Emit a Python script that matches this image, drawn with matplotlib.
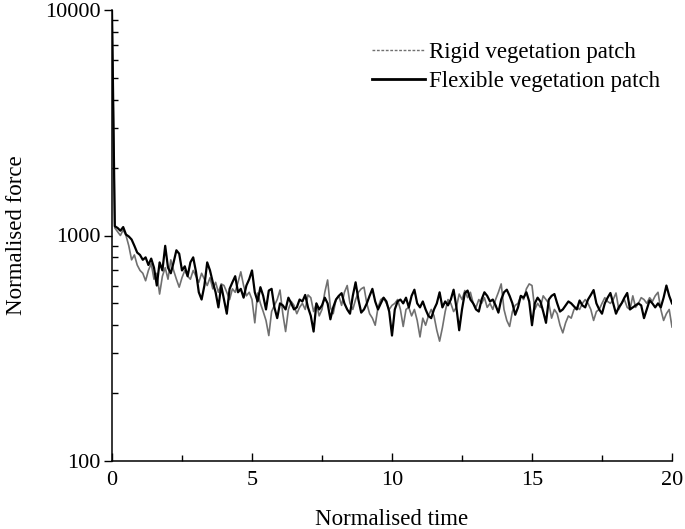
import numpy as np
import matplotlib
matplotlib.use('Agg')
import matplotlib.pyplot as plt
from matplotlib.lines import Line2D
from matplotlib.ticker import MultipleLocator, LogLocator, NullFormatter

# normalised time, sampled every 0.1
time = np.linspace(0, 20, 201)

# rigid vegetation patch (grey)
rigid = [
    10000, 1080, 1040, 1000, 1060, 1000, 900, 780, 820, 740,
    700, 680, 630, 700, 750, 640, 680, 550, 660, 720,
    640, 780, 700, 640, 590, 650, 700, 660, 640, 700,
    660, 620, 680, 640, 600, 650, 580, 620, 560, 610,
    600, 560, 520, 580, 560, 620, 690, 600, 540, 560,
    520, 410, 556, 500, 460, 420, 360, 460, 490, 520,
    573, 450, 375, 470, 510, 490, 450, 480, 500, 470,
    545, 530, 460, 500, 440, 470, 560, 635, 480, 450,
    520, 540, 490, 560, 600, 500, 470, 520, 560, 580,
    590, 500, 450, 430, 400, 480, 520, 530, 500, 470,
    490, 500, 520, 470, 395, 470, 480, 440, 470, 420,
    355, 430, 400, 440, 470, 440, 380, 340, 390, 460,
    520, 500, 460, 480, 550, 520, 570, 530, 560, 500,
    480, 520, 500, 530, 480, 500, 470, 520, 560, 610,
    470, 420, 395, 460, 490, 500, 540, 520, 580, 610,
    600, 470, 500, 480, 540, 520, 500, 430, 470, 450,
    400, 370, 410, 440, 430, 470, 480, 470, 500, 520,
    500, 470, 420, 460, 470, 500, 530, 510, 500, 520,
    556, 470, 500, 520, 480, 470, 540, 480, 500, 530,
    520, 500, 530, 510, 540, 560, 470, 420, 450, 470,
    393,
]

# flexible vegetation patch (black)
flexible = [
    10000, 1100, 1080, 1050, 1090, 1010, 990, 960, 900, 840,
    820, 780, 800, 740, 790, 720, 600, 760, 700, 900,
    720, 680, 760, 860, 830, 700, 730, 660, 760, 800,
    690, 560, 520, 600, 760, 700, 620, 560, 480, 600,
    520, 450, 580, 620, 660, 560, 580, 530, 600, 640,
    700, 560, 510, 590, 540, 470, 570, 580, 480, 430,
    500, 490, 470, 530, 500, 470, 480, 520, 510, 545,
    480, 440, 375, 500, 470, 490, 530, 500, 425, 480,
    520, 540, 555, 500, 470, 450, 540, 620, 520, 455,
    470, 500, 540, 580, 510, 470, 500, 530, 510, 460,
    360, 470, 510, 520, 500, 530, 480, 540, 575, 500,
    480, 510, 470, 440, 430, 470, 500, 560, 480, 510,
    490, 520, 575, 480, 380, 470, 555, 570, 520, 500,
    470, 460, 520, 560, 540, 510, 520, 490, 455, 520,
    560, 575, 540, 500, 445, 480, 540, 530, 560, 510,
    400, 500, 530, 510, 460, 410, 520, 540, 550, 500,
    460, 470, 490, 510, 500, 485, 470, 515, 490, 480,
    520, 545, 573, 500, 470, 450, 500, 530, 556, 500,
    450, 480, 500, 530, 556, 470, 480, 490, 500, 490,
    430, 470, 515, 500, 480, 500, 480, 530, 600, 540,
    500,
]

plt.rcParams['font.family'] = ['Liberation Serif', 'DejaVu Serif']
plt.rcParams['font.size'] = 16.5

fig = plt.figure(figsize=(6.85, 5.29), dpi=100)
ax = fig.add_axes([112/685, 68/529, 560/685, 451/529])

ax.plot(time, rigid, color='#707070', lw=1.2)
ax.plot(time, flexible, color='black', lw=1.6)

ax.set_yscale('log')
ax.set_xlim(0, 20)
ax.set_ylim(100, 10000)

ax.xaxis.set_major_locator(MultipleLocator(5))
ax.xaxis.set_minor_locator(MultipleLocator(2.5))
ax.yaxis.set_minor_locator(LogLocator(base=10, subs=np.arange(2, 10)))
ax.yaxis.set_minor_formatter(NullFormatter())
ax.set_yticks([100, 1000, 10000])
ax.set_yticklabels(['100', '1000', '10000'])

ax.tick_params(axis='both', labelsize=16)
ax.tick_params(axis='x', which='major', direction='in', length=6, width=1, pad=7)
ax.tick_params(axis='x', which='minor', direction='in', length=4, width=1)
ax.tick_params(axis='y', which='major', direction='out', length=6, width=1, pad=2)
ax.tick_params(axis='y', which='minor', direction='in', length=4, width=1)

for s in ['top', 'right']:
    ax.spines[s].set_visible(False)
for s in ['left', 'bottom']:
    ax.spines[s].set_linewidth(1.1)

ax.set_xlabel('Normalised time', labelpad=14)
ax.set_ylabel('Normalised force', labelpad=13)

handles = [
    Line2D([], [], color='#707070', lw=1.0, ls=(0, (2, 1.2))),
    Line2D([], [], color='black', lw=2.0),
]
ax.legend(handles, ['Rigid vegetation patch', 'Flexible vegetation patch'],
          loc='upper right', bbox_to_anchor=(1.0, 0.954), frameon=False,
          handlelength=2.3, handletextpad=0.2, labelspacing=0.33,
          borderaxespad=0.1)

fig.savefig('out.png', dpi=100)
